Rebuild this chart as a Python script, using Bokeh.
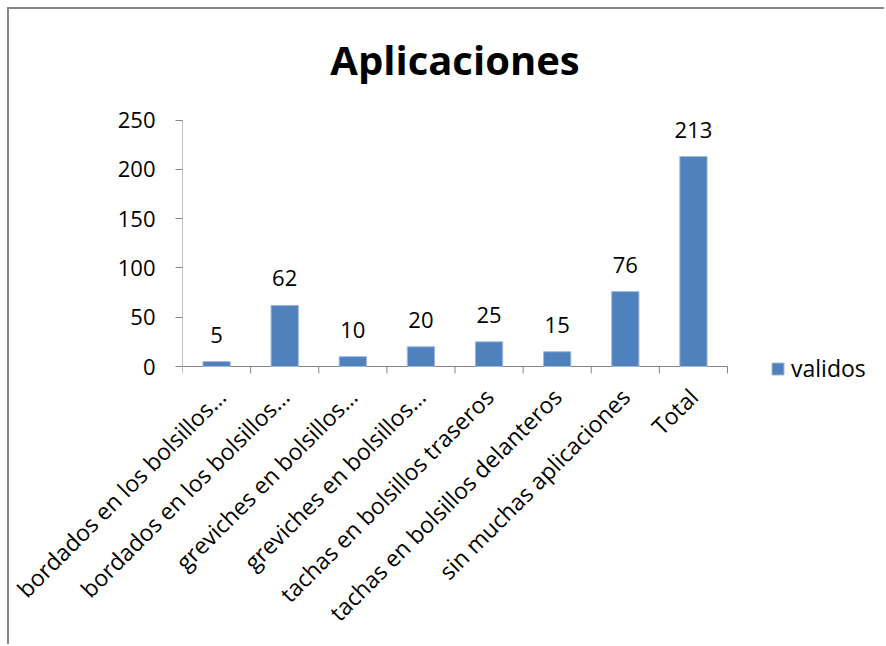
import math
from bokeh.plotting import figure
from bokeh.models import (ColumnDataSource, FixedTicker, LabelSet, Label, Legend, LegendItem, Range1d)
from bokeh.core.properties import value
from bokeh.embed import file_html
from bokeh.resources import INLINE

title_text = "Aplicaciones"
categories = [
    "bordados en los bolsillos\u2026",
    "bordados en los bolsillos\u2026",
    "greviches en bolsillos\u2026",
    "greviches en bolsillos\u2026",
    "tachas en bolsillos traseros",
    "tachas en bolsillos delanteros",
    "sin muchas aplicaciones",
    "Total",
]
values = [5, 62, 10, 20, 25, 15, 76, 213]
series_name = "validos"
y_ticks = [0, 50, 100, 150, 200, 250]
y_max = 250

FONT = "Open Sans"
AXIS_COLOR = "#868686"
BAR_COLOR = "#4F81BD"

# layout (page pixels)
OX, OY = 9, 9              # canvas origin on page (after css border)
W, H = 886 - OX, 646 - OY
AX_L, AX_R = 182, 727      # category axis extent
AX_TOP, AX_0 = 119.6, 366  # y of 250 and of 0
FR_T, FR_R, FR_B = 20, 886, 388  # frame extended to hold title and legend
TITLE_BASE = 59

n = len(categories)
px_x = (AX_R - AX_L) / n
px_y = (AX_0 - AX_TOP) / y_max
x_end = -0.5 + (FR_R - AX_L) / px_x
y_start = -(FR_B - AX_0) / px_y
y_end = (AX_0 - FR_T) / px_y

xs = list(range(n))
src = ColumnDataSource(dict(x=xs, v=values, lab=[str(v) for v in values]))

p = figure(width=W, height=H, output_backend="svg", toolbar_location=None,
           x_range=Range1d(-0.5, x_end), y_range=Range1d(y_start, y_end),
           min_border_left=AX_L - OX, min_border_right=0,
           min_border_top=FR_T - OY, min_border_bottom=646 - FR_B)
p.styles = {"margin-left": "7px", "margin-top": "7px",
            "border-left": "2px solid #868686", "border-top": "2px solid #868686"}
p.outline_line_color = None
p.xgrid.grid_line_color = None
p.ygrid.grid_line_color = None
p.background_fill_color = "white"
p.border_fill_color = "white"

title = Label(x=(n - 1) / 2, y=(AX_0 - TITLE_BASE) / px_y, text=title_text,
              text_align="center", text_baseline="alphabetic", text_font=FONT,
              text_font_size="40px", text_font_style="bold", text_color="black")
p.add_layout(title)

# axis lines and category separators as glyphs (frame is extended)
bounds = [i - 0.5 for i in range(n + 1)]
p.segment(x0=[-0.5], y0=[0], x1=[n - 0.5], y1=[0], line_color=AXIS_COLOR, line_width=1)
p.segment(x0=[-0.5], y0=[0], x1=[-0.5], y1=[y_max], line_color=AXIS_COLOR, line_width=1)
p.segment(x0=bounds, y0=[0] * len(bounds), x1=bounds, y1=[-7 / px_y] * len(bounds),
          line_color=AXIS_COLOR, line_width=1)

r = p.vbar(x="x", top="v", width=0.4, source=src, fill_color=BAR_COLOR,
           line_color="#9FB8DA", line_width=1)

labels = LabelSet(x="x", y="v", text="lab", source=src, text_align="center",
                  text_baseline="alphabetic", y_offset=19, text_font=value(FONT),
                  text_font_size=value("22px"), text_color="black")
p.add_layout(labels)

xa = p.xaxis[0]
xa.ticker = FixedTicker(ticks=xs, minor_ticks=[])
xa.major_label_overrides = {i: c for i, c in enumerate(categories)}
xa.major_label_orientation = math.pi / 4
xa.major_tick_out = 0
xa.major_tick_in = 0
xa.axis_line_color = None
xa.major_label_text_font = FONT
xa.major_label_text_font_size = "23px"
xa.major_label_text_color = "black"
xa.major_label_standoff = 26 - (FR_B - AX_0)

ya = p.yaxis[0]
ya.ticker = FixedTicker(ticks=y_ticks, minor_ticks=[])
ya.major_tick_out = 7
ya.major_tick_in = 0
ya.major_tick_line_color = AXIS_COLOR
ya.axis_line_color = None
ya.major_label_text_font = FONT
ya.major_label_text_font_size = "22px"
ya.major_label_text_color = "black"
ya.major_label_standoff = 20

legend = Legend(items=[LegendItem(label=series_name, renderers=[r])],
                location=(770 - AX_L, 4), padding=0, margin=0, spacing=0,
                glyph_width=15, glyph_height=15, label_standoff=6,
                label_text_font=FONT, label_text_font_size="23px",
                label_text_color="black", border_line_color=None,
                background_fill_alpha=0)
p.add_layout(legend)

open("out.html", "w").write(file_html(p, INLINE))
